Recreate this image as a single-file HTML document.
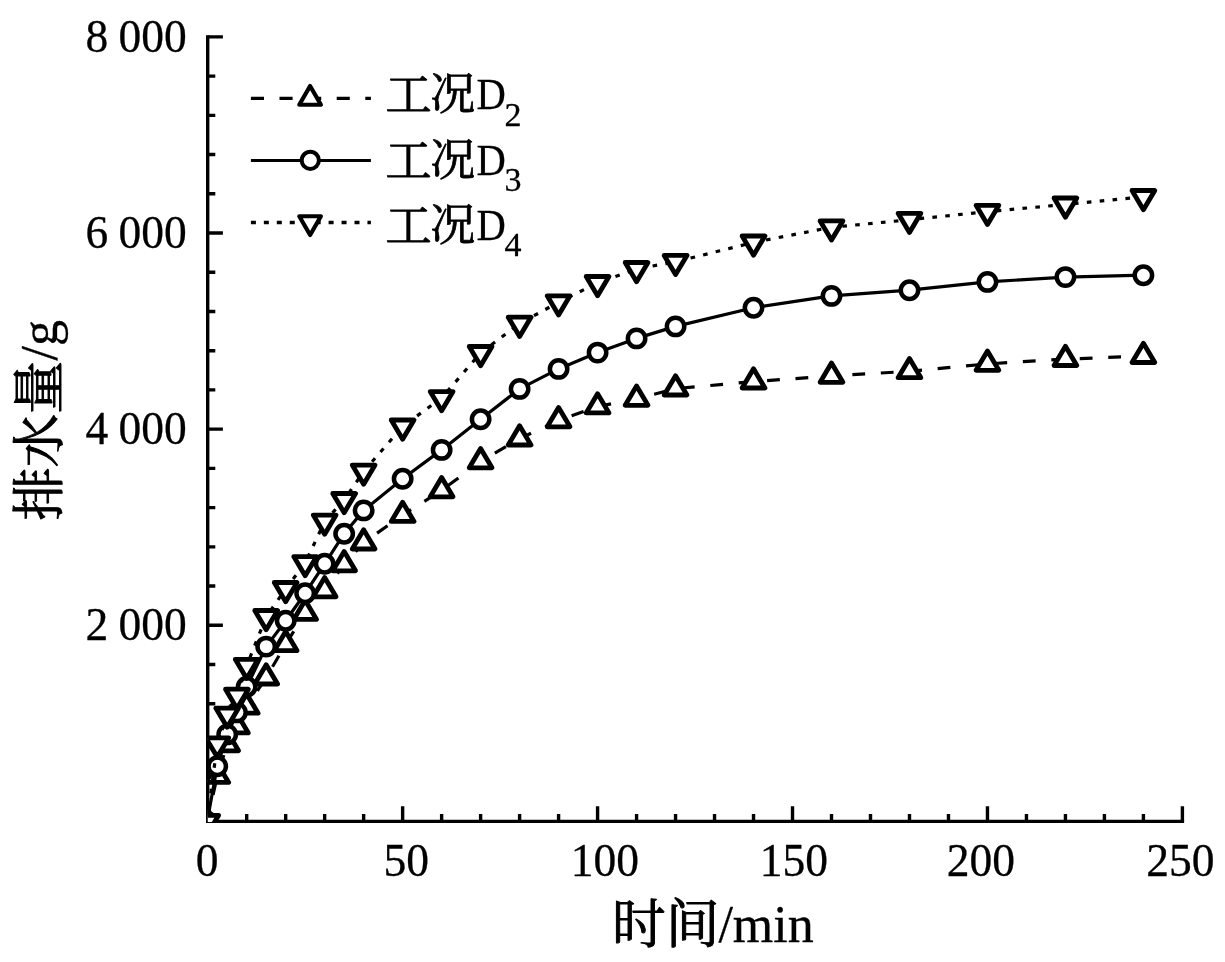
<!DOCTYPE html>
<html lang="zh"><head><meta charset="utf-8"><title>排水量-时间</title>
<style>html,body{margin:0;padding:0;background:#fff}svg{display:block}text{font-family:"Liberation Serif","Noto Serif CJK SC",serif;fill:#000;stroke:#000;stroke-width:0.3px;stroke-linejoin:round}.cj{stroke-width:0.95px}.cl{stroke-width:0.8px}</style></head><body>
<svg width="1225" height="962" viewBox="0 0 1225 962">
<rect width="1225" height="962" fill="#fff"/>
<defs><clipPath id="pa"><rect x="207.9" y="0" width="1017.3" height="821.9"/></clipPath></defs>
<g fill="none" stroke="#000" stroke-width="3.4" stroke-linecap="butt">
<path d="M207.7 35.2V823.1"/>
<path d="M206 821.4H1184.1"/>
<path d="M207.7 782.17h7.6M207.7 742.95h7.6M207.7 703.73h7.6M207.7 664.5h7.6M207.7 625.27h15.2M207.7 586.05h7.6M207.7 546.83h7.6M207.7 507.6h7.6M207.7 468.38h7.6M207.7 429.15h15.2M207.7 389.92h7.6M207.7 350.7h7.6M207.7 311.47h7.6M207.7 272.25h7.6M207.7 233.02h15.2M207.7 193.8h7.6M207.7 154.57h7.6M207.7 115.35h7.6M207.7 76.12h7.6M207.7 36.9h15.2M246.69 821.4v-7.5M285.68 821.4v-7.5M324.66 821.4v-7.5M363.65 821.4v-7.5M402.64 821.4v-15.2M441.63 821.4v-7.5M480.62 821.4v-7.5M519.6 821.4v-7.5M558.59 821.4v-7.5M597.58 821.4v-15.2M636.57 821.4v-7.5M675.56 821.4v-7.5M714.54 821.4v-7.5M753.53 821.4v-7.5M792.52 821.4v-15.2M831.51 821.4v-7.5M870.5 821.4v-7.5M909.48 821.4v-7.5M948.47 821.4v-7.5M987.46 821.4v-15.2M1026.45 821.4v-7.5M1065.44 821.4v-7.5M1104.42 821.4v-7.5M1143.41 821.4v-7.5M1182.4 821.4v-15.2"/>
</g>
<g clip-path="url(#pa)" fill="none" stroke="#000" stroke-linejoin="round" stroke-linecap="butt">
<path d="M1143.41 356.1L1065.44 359.1L987.46 363.9L909.48 371.3L831.51 375.9L753.53 381.6L675.56 388.6L636.57 398.9L597.58 406.5L558.59 420.4L519.6 438.6L480.62 461.4L441.63 490.4L402.64 515L363.65 542.6L344.16 564.4L324.66 590.4L305.17 613L285.68 644.3L266.18 677.6L246.69 706.8L236.94 726.5L227.19 744.4L217.25 776L207.1 821.8" stroke-width="3.2" stroke-dasharray="12.8 15.7" stroke-dashoffset="6.1"/>
<g fill="#fff" stroke-width="4.8">
<path d="M207.1 809L218.5 828.2L195.7 828.2Z"/>
<path d="M217.25 763.2L228.65 782.4L205.85 782.4Z"/>
<path d="M227.19 731.6L238.59 750.8L215.79 750.8Z"/>
<path d="M236.94 713.7L248.34 732.9L225.54 732.9Z"/>
<path d="M246.69 694L258.09 713.2L235.29 713.2Z"/>
<path d="M266.18 664.8L277.58 684L254.78 684Z"/>
<path d="M285.68 631.5L297.08 650.7L274.28 650.7Z"/>
<path d="M305.17 600.2L316.57 619.4L293.77 619.4Z"/>
<path d="M324.66 577.6L336.06 596.8L313.26 596.8Z"/>
<path d="M344.16 551.6L355.56 570.8L332.76 570.8Z"/>
<path d="M363.65 529.8L375.05 549L352.25 549Z"/>
<path d="M402.64 502.2L414.04 521.4L391.24 521.4Z"/>
<path d="M441.63 477.6L453.03 496.8L430.23 496.8Z"/>
<path d="M480.62 448.6L492.02 467.8L469.22 467.8Z"/>
<path d="M519.6 425.8L531 445L508.2 445Z"/>
<path d="M558.59 407.6L569.99 426.8L547.19 426.8Z"/>
<path d="M597.58 393.7L608.98 412.9L586.18 412.9Z"/>
<path d="M636.57 386.1L647.97 405.3L625.17 405.3Z"/>
<path d="M675.56 375.8L686.96 395L664.16 395Z"/>
<path d="M753.53 368.8L764.93 388L742.13 388Z"/>
<path d="M831.51 363.1L842.91 382.3L820.11 382.3Z"/>
<path d="M909.48 358.5L920.88 377.7L898.08 377.7Z"/>
<path d="M987.46 351.1L998.86 370.3L976.06 370.3Z"/>
<path d="M1065.44 346.3L1076.84 365.5L1054.04 365.5Z"/>
<path d="M1143.41 343.3L1154.81 362.5L1132.01 362.5Z"/>
</g>
<path d="M1143.41 275.2L1065.44 277.1L987.46 281.9L909.48 290.2L831.51 295.9L753.53 307.7L675.56 326.4L636.57 338.4L597.58 352.6L558.59 368.9L519.6 388.9L480.62 419.3L441.63 449.9L402.64 478.8L363.65 510.4L344.16 533.7L324.66 563.8L305.17 593.2L285.68 620.7L266.18 646.6L246.69 686.7L236.94 712.4L227.19 734.4L217.25 766.3L207.1 821.8" stroke-width="3.2"/>
<g fill="#fff" stroke-width="4.5">
<circle cx="207.1" cy="821.8" r="8.7"/>
<circle cx="217.25" cy="766.3" r="8.7"/>
<circle cx="227.19" cy="734.4" r="8.7"/>
<circle cx="236.94" cy="712.4" r="8.7"/>
<circle cx="246.69" cy="686.7" r="8.7"/>
<circle cx="266.18" cy="646.6" r="8.7"/>
<circle cx="285.68" cy="620.7" r="8.7"/>
<circle cx="305.17" cy="593.2" r="8.7"/>
<circle cx="324.66" cy="563.8" r="8.7"/>
<circle cx="344.16" cy="533.7" r="8.7"/>
<circle cx="363.65" cy="510.4" r="8.7"/>
<circle cx="402.64" cy="478.8" r="8.7"/>
<circle cx="441.63" cy="449.9" r="8.7"/>
<circle cx="480.62" cy="419.3" r="8.7"/>
<circle cx="519.6" cy="388.9" r="8.7"/>
<circle cx="558.59" cy="368.9" r="8.7"/>
<circle cx="597.58" cy="352.6" r="8.7"/>
<circle cx="636.57" cy="338.4" r="8.7"/>
<circle cx="675.56" cy="326.4" r="8.7"/>
<circle cx="753.53" cy="307.7" r="8.7"/>
<circle cx="831.51" cy="295.9" r="8.7"/>
<circle cx="909.48" cy="290.2" r="8.7"/>
<circle cx="987.46" cy="281.9" r="8.7"/>
<circle cx="1065.44" cy="277.1" r="8.7"/>
<circle cx="1143.41" cy="275.2" r="8.7"/>
</g>
<path d="M1143.41 196.9L1065.44 204.4L987.46 211.7L909.48 219.7L831.51 227.3L753.53 242.4L675.56 261.8L636.57 268.9L597.58 282.9L558.59 302.2L519.6 323.6L480.62 352.9L441.63 398L402.64 426.4L363.65 471.5L344.16 499.9L324.66 521.5L305.17 563L285.68 588.9L266.18 616.9L246.69 665.7L236.94 695.6L227.19 714.5L217.25 744.3L207.1 821.8" stroke-width="3.2" stroke-dasharray="4.6 8.33" stroke-dashoffset="12.4"/>
<g fill="#fff" stroke-width="4.8">
<path d="M207.1 834.6L218.5 815.4L195.7 815.4Z"/>
<path d="M217.25 757.1L228.65 737.9L205.85 737.9Z"/>
<path d="M227.19 727.3L238.59 708.1L215.79 708.1Z"/>
<path d="M236.94 708.4L248.34 689.2L225.54 689.2Z"/>
<path d="M246.69 678.5L258.09 659.3L235.29 659.3Z"/>
<path d="M266.18 629.7L277.58 610.5L254.78 610.5Z"/>
<path d="M285.68 601.7L297.08 582.5L274.28 582.5Z"/>
<path d="M305.17 575.8L316.57 556.6L293.77 556.6Z"/>
<path d="M324.66 534.3L336.06 515.1L313.26 515.1Z"/>
<path d="M344.16 512.7L355.56 493.5L332.76 493.5Z"/>
<path d="M363.65 484.3L375.05 465.1L352.25 465.1Z"/>
<path d="M402.64 439.2L414.04 420L391.24 420Z"/>
<path d="M441.63 410.8L453.03 391.6L430.23 391.6Z"/>
<path d="M480.62 365.7L492.02 346.5L469.22 346.5Z"/>
<path d="M519.6 336.4L531 317.2L508.2 317.2Z"/>
<path d="M558.59 315L569.99 295.8L547.19 295.8Z"/>
<path d="M597.58 295.7L608.98 276.5L586.18 276.5Z"/>
<path d="M636.57 281.7L647.97 262.5L625.17 262.5Z"/>
<path d="M675.56 274.6L686.96 255.4L664.16 255.4Z"/>
<path d="M753.53 255.2L764.93 236L742.13 236Z"/>
<path d="M831.51 240.1L842.91 220.9L820.11 220.9Z"/>
<path d="M909.48 232.5L920.88 213.3L898.08 213.3Z"/>
<path d="M987.46 224.5L998.86 205.3L976.06 205.3Z"/>
<path d="M1065.44 217.2L1076.84 198L1054.04 198Z"/>
<path d="M1143.41 209.7L1154.81 190.5L1132.01 190.5Z"/>
</g>
</g>
<g font-size="45.5">
<text x="186.8" y="51.8" text-anchor="end" word-spacing="-1">8 000</text>
<text x="186.8" y="247.92" text-anchor="end" word-spacing="-1">6 000</text>
<text x="186.8" y="444.05" text-anchor="end" word-spacing="-1">4 000</text>
<text x="186.8" y="640.17" text-anchor="end" word-spacing="-1">2 000</text>
<text x="207" y="876.3" text-anchor="middle">0</text>
<text x="406.3" y="876.3" text-anchor="middle">50</text>
<text x="604.8" y="876.3" text-anchor="middle">100</text>
<text x="793.9" y="876.3" text-anchor="middle">150</text>
<text x="980.8" y="876.3" text-anchor="middle">200</text>
<text x="1180.4" y="876.3" text-anchor="middle">250</text>
</g>
<text font-size="52"><tspan class="cj" x="612" y="943" font-size="53" textLength="107.5" lengthAdjust="spacingAndGlyphs">时间</tspan><tspan x="718.4" y="941.6">/min</tspan></text>
<text transform="rotate(-90)" font-size="52"><tspan class="cj" x="-520.6" y="58.3" font-size="53" textLength="160" lengthAdjust="spacingAndGlyphs">排水量</tspan><tspan x="-360.5" y="57.3">/g</tspan></text>
<g fill="none" stroke="#000">
<path d="M250.9 98.4H370.9" stroke-width="3.2" stroke-dasharray="13.1 15.5"/>
<path d="M250.9 160.4H370.9" stroke-width="3"/>
<path d="M250.9 222.5H370.9" stroke-width="3.3" stroke-dasharray="5 7.95"/>
<g fill="#fff" stroke-linejoin="round" stroke-width="4.2">
<path d="M310.1 86.03L320.9 104.73L299.3 104.73Z"/>
<circle cx="310.3" cy="160.3" r="8.6" stroke-width="4"/>
<path d="M310.1 234.97L320.9 216.27L299.3 216.27Z"/>
</g></g>
<text font-size="45"><tspan class="cj cl" x="385.2" y="111.3" textLength="46.5" lengthAdjust="spacingAndGlyphs">工</tspan><tspan class="cj cl" x="430.3" y="110.4">况</tspan><tspan x="476.4" y="109.4" font-size="44.6" textLength="29.3" lengthAdjust="spacingAndGlyphs">D</tspan><tspan x="504.6" y="125.6" font-size="34">2</tspan></text>
<text font-size="45"><tspan class="cj cl" x="385.2" y="176.6" textLength="46.5" lengthAdjust="spacingAndGlyphs">工</tspan><tspan class="cj cl" x="430.3" y="175.7">况</tspan><tspan x="476.4" y="174.7" font-size="44.6" textLength="29.3" lengthAdjust="spacingAndGlyphs">D</tspan><tspan x="504.6" y="190.9" font-size="34">3</tspan></text>
<text font-size="45"><tspan class="cj cl" x="385.2" y="242.1" textLength="46.5" lengthAdjust="spacingAndGlyphs">工</tspan><tspan class="cj cl" x="430.3" y="241.2">况</tspan><tspan x="476.4" y="240.2" font-size="44.6" textLength="29.3" lengthAdjust="spacingAndGlyphs">D</tspan><tspan x="504.6" y="256.4" font-size="34">4</tspan></text>
</svg></body></html>
